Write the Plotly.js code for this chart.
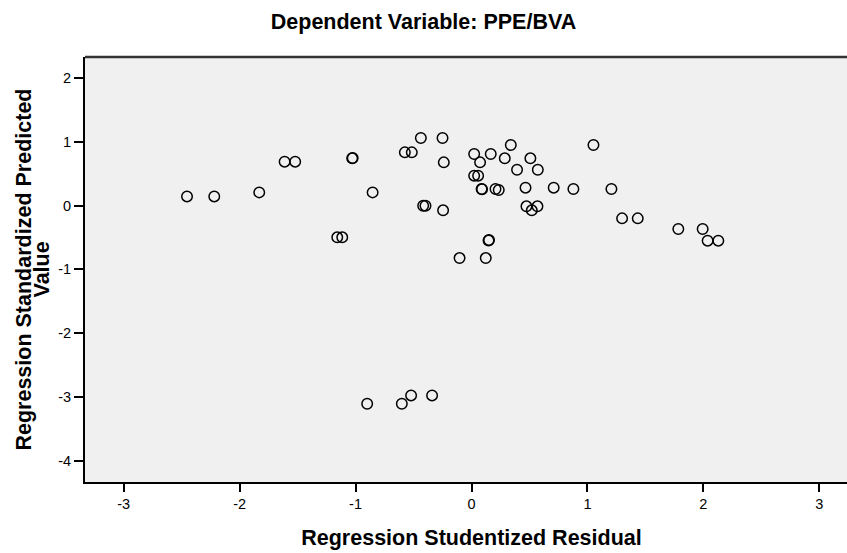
<!DOCTYPE html>
<html>
<head>
<meta charset="utf-8">
<script src="https://cdn.plot.ly/plotly-3.0.1.min.js"></script>
<style>
html,body{margin:0;padding:0;overflow:hidden;background:#fff;width:847px;height:553px;}
#chart{width:880px;height:553px;}
</style>
</head>
<body>
<div id="chart"></div>
<script>
// Regression Studentized Residual (x) and Regression Standardized Predicted Value (y)
const residuals = [
  -2.454, -2.219, -1.831, -1.612, -1.521, -1.029, -1.025, -1.158, -1.115, -0.853,
  -0.575, -0.515, -0.437, -0.250, -0.239, -0.417, -0.397, -0.245, -0.103, 0.023,
  0.074, 0.166, 0.339, 0.287, 0.508, 0.393, 0.572, 0.023, 0.057, 0.087,
  0.091, 0.207, 0.235, 0.466, 0.709, 0.879, 1.207, 1.052, 0.474, 0.569,
  0.520, 0.147, 0.151, 0.123, 1.299, 1.434, 1.784, 1.994, 2.037, 2.129,
  -0.900, -0.601, -0.521, -0.340
];
const predicted = [
  0.146, 0.146, 0.209, 0.691, 0.691, 0.743, 0.748, -0.497, -0.497, 0.209,
  0.837, 0.837, 1.063, 1.063, 0.680, 0.000, 0.000, -0.073, -0.822, 0.811,
  0.680, 0.811, 0.952, 0.743, 0.743, 0.565, 0.565, 0.471, 0.471, 0.262,
  0.258, 0.262, 0.246, 0.283, 0.283, 0.262, 0.262, 0.952, -0.010, -0.010,
  -0.073, -0.545, -0.540, -0.822, -0.199, -0.199, -0.366, -0.366, -0.549, -0.549,
  -3.108, -3.108, -2.978, -2.978
];
const xTicks = [-3, -2, -1, 0, 1, 2, 3];
const yTicks = [-4, -3, -2, -1, 0, 1, 2];
const yTitleLines = ['Regression Standardized Predicted', 'Value'];

const FIG_W = 880, FIG_H = 553;
const M = {l: 85, r: 21.5, t: 57, b: 71};
const plotW = FIG_W - M.l - M.r;
const pxToPaperX = px => (px - M.l) / plotW;

const trace = {
  x: residuals,
  y: predicted,
  type: 'scatter',
  mode: 'markers',
  marker: {symbol: 'circle-open', size: 10.5, color: '#000', line: {width: 1.5, color: '#000'}},
  hoverinfo: 'x+y'
};

const FONT = '"Liberation Sans", Arial, Helvetica, sans-serif';
const tickFont = {family: FONT, size: 14.5, color: '#000'};
const titleFont = {family: FONT, size: 21.5, color: '#000', weight: 'bold'};

const layout = {
  width: FIG_W,
  height: FIG_H,
  margin: M,
  paper_bgcolor: '#ffffff',
  plot_bgcolor: '#f0f0f0',
  showlegend: false,
  title: {
    text: 'Dependent Variable: PPE/BVA',
    font: titleFont,
    x: 423.5 / FIG_W, xanchor: 'center', xref: 'container',
    y: 1 - 21 / FIG_H, yanchor: 'middle', yref: 'container'
  },
  xaxis: {
    range: [-3.334, 3.334],
    tickvals: xTicks,
    ticktext: xTicks.map(String),
    ticks: 'outside', ticklen: 8, tickwidth: 2, tickcolor: '#000',
    showline: true, linecolor: '#000', linewidth: 2,
    showgrid: false, zeroline: false,
    tickfont: tickFont,
    title: {text: 'Regression Studentized Residual', font: titleFont, standoff: 19}
  },
  yaxis: {
    range: [-4.337, 2.334],
    tickvals: yTicks,
    ticktext: yTicks.map(String),
    ticks: 'outside', ticklen: 9, tickwidth: 2, tickcolor: '#000',
    showline: true, linecolor: '#000', linewidth: 2,
    showgrid: false, zeroline: false,
    tickfont: tickFont
  },
  annotations: [
    {text: yTitleLines[0], xref: 'paper', yref: 'paper', x: pxToPaperX(23), y: 0.5,
     xanchor: 'center', yanchor: 'middle', textangle: -90, showarrow: false, font: titleFont},
    {text: yTitleLines[1], xref: 'paper', yref: 'paper', x: pxToPaperX(41), y: 0.5,
     xanchor: 'center', yanchor: 'middle', textangle: -90, showarrow: false, font: titleFont}
  ],
  shapes: [
    {type: 'line', xref: 'paper', yref: 'paper', x0: 0, x1: 1, y0: 1, y1: 1,
     line: {color: '#333', width: 2.5}}
  ]
};

Plotly.newPlot('chart', [trace], layout, {displayModeBar: false, staticPlot: true});
</script>
</body>
</html>
